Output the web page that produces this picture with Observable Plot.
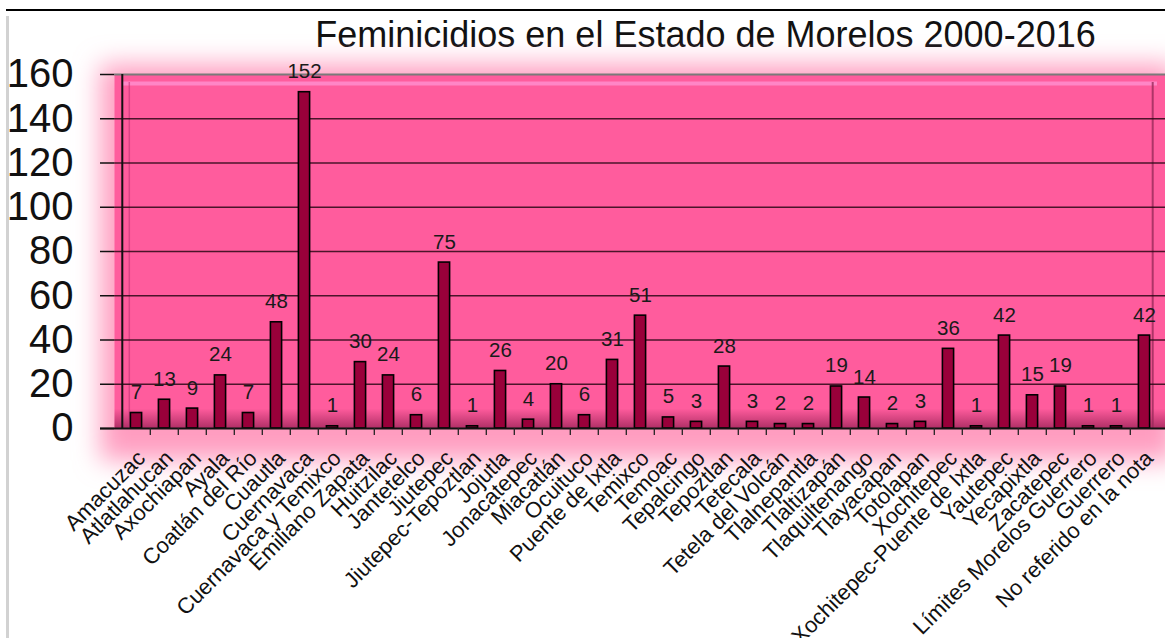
<!DOCTYPE html>
<html>
<head>
<meta charset="utf-8">
<script src="https://cdn.jsdelivr.net/npm/d3@7"></script>
<script src="https://cdn.jsdelivr.net/npm/@observablehq/plot@0.6"></script>
<style>
  html, body { margin: 0; padding: 0; background: #fff; }
  #wrap { position: relative; width: 1165px; height: 638px; overflow: hidden; font-family: "Liberation Sans", Arial, sans-serif; }
  #topline { position: absolute; left: 6px; top: 9px; width: 1159px; height: 2px; background: #000; }
  #leftline { position: absolute; left: 6px; top: 16px; width: 3px; height: 622px; background: #d2d2d2; }
  #title { margin-left: 246px; width: 919px; height: 45px; padding-top: 15px; line-height: 40px; font-size: 36px; text-align: center; color: #111; white-space: nowrap; }
  #chart { position: relative; }
</style>
</head>
<body>
<div id="wrap">
  <div id="topline"></div>
  <div id="leftline"></div>
  <div id="title">Feminicidios en el Estado de Morelos 2000-2016</div>
  <div id="chart"></div>
</div>
<script>
const municipios = [
  "Amacuzac", "Atlatlahucan", "Axochiapan", "Ayala", "Coatlán del Río", "Cuautla",
  "Cuernavaca", "Cuernavaca y Temixco", "Emiliano Zapata", "Huitzilac", "Jantetelco",
  "Jiutepec", "Jiutepec-Tepoztlan", "Jojutla", "Jonacatepec", "Miacatlán", "Ocuituco",
  "Puente de Ixtla", "Temixco", "Temoac", "Tepalcingo", "Tepoztlan", "Tetecala",
  "Tetela del Volcán", "Tlalnepantla", "Tlaltizapán", "Tlaquiltenango", "Tlayacapan",
  "Totolapan", "Xochitepec", "Xochitepec-Puente de Ixtla", "Yautepec", "Yecapixtla",
  "Zacatepec", "Límites Morelos Guerrero", "Guerrero", "No referido en la nota"
];
const casos = [
  7, 13, 9, 24, 7, 48,
  152, 1, 30, 24, 6,
  75, 1, 26, 4, 20, 6,
  31, 51, 5, 3, 28, 3,
  2, 2, 19, 14, 2,
  3, 36, 1, 42, 15,
  19, 1, 1, 42
];
const yTicks = [0, 20, 40, 60, 80, 100, 120, 140, 160];
const gridTicks = [20, 40, 60, 80, 100, 120, 140];

const data = municipios.map((m, i) => ({municipio: m, casos: casos[i]}));

const W = 1165, H = 578;
const mL = 114, mR = 0, mT = 14, mB = 210;
const step = (W - mL - mR) / municipios.length;
const barInset = (step - 11.6) / 2;

const chart = Plot.plot({
  width: W,
  height: H,
  marginLeft: mL,
  marginRight: mR,
  marginTop: mT,
  marginBottom: mB,
  style: {fontFamily: "Liberation Sans, Arial, sans-serif", background: "transparent", overflow: "visible", color: "#111"},
  x: {domain: municipios, padding: 0, axis: null},
  y: {domain: [0, 160], axis: null},
  marks: [
    // soft pink glow behind the panel
    Plot.frame({fill: "#ff9cc0", stroke: null, insetLeft: -14, insetTop: -10, insetBottom: -32, insetRight: -10}),
    Plot.frame({fill: "#ff5c9d", stroke: null}),
    // bottom shading inside panel
    Plot.frame({fill: "url(#shadeBottom)", stroke: null, insetTop: 334}),
    // top highlight bevel
    Plot.ruleY([160], {dy: 9, stroke: "#ff86c6", strokeWidth: 4, insetLeft: 8, insetRight: 8}),
    // right & left bevel edges
    Plot.ruleX([municipios[municipios.length - 1]], {dx: step / 2 - 6, stroke: "#9a2a5a", strokeWidth: 2, insetTop: 8, strokeOpacity: 0.8}),
    Plot.ruleX([municipios[0]], {dx: -step / 2 + 7, stroke: "#c23377", strokeWidth: 1.5, insetTop: 8, strokeOpacity: 0.6}),
    Plot.gridY(gridTicks, {stroke: "#2b0816", strokeOpacity: 0.85, strokeWidth: 1.3}),
    Plot.ruleY([160], {stroke: "#7a7a7a", strokeWidth: 2}),
    Plot.barY(data, {x: "municipio", y: "casos", fill: "#99003a", stroke: "#000", strokeWidth: 1.6, insetLeft: barInset, insetRight: barInset}),
    Plot.text(data, {x: "municipio", y: "casos", text: d => String(d.casos), dy: -14, lineAnchor: "bottom", fontSize: 20.5, fill: "#1a1a1a"}),
    // y axis
    Plot.ruleX([municipios[0]], {dx: -step / 2, stroke: "#111", strokeWidth: 2}),
    Plot.axisY({ticks: yTicks, label: null, tickSize: 14, tickPadding: 27, fontSize: 40, stroke: "#111", strokeWidth: 1.5, tickFormat: d => String(d)}),
    // x axis baseline and boundary ticks
    Plot.ruleY([0], {stroke: "#111", strokeWidth: 2, insetLeft: -14}),
    Plot.ruleX(municipios.slice(1), {x: d => d, y1: () => 0, y2: () => 0, insetBottom: -7, dx: -step / 2, stroke: "#222", strokeWidth: 1.3}),
    // x labels
    Plot.text(municipios, {x: d => d, frameAnchor: "bottom", text: d => d, rotate: -45, textAnchor: "end", lineAnchor: "middle", dx: 5, dy: 26, fontSize: 22, fill: "#111"})
  ]
});

const svg = d3.select(chart);
const defs = svg.insert("defs", ":first-child");
defs.html(`
  <linearGradient id="shadeBottom" x1="0" y1="0" x2="0" y2="1">
    <stop offset="0" stop-color="#7a1040" stop-opacity="0"/>
    <stop offset="1" stop-color="#7a1040" stop-opacity="0.6"/>
  </linearGradient>
  <filter id="glow" x="-20%" y="-30%" width="140%" height="160%">
    <feGaussianBlur stdDeviation="13"/>
  </filter>
`);
const frames = svg.selectAll('[aria-label="frame"]').nodes();
if (frames.length) {
  frames[0].setAttribute("filter", "url(#glow)");
}
document.getElementById("chart").appendChild(chart);
</script>
</body>
</html>
